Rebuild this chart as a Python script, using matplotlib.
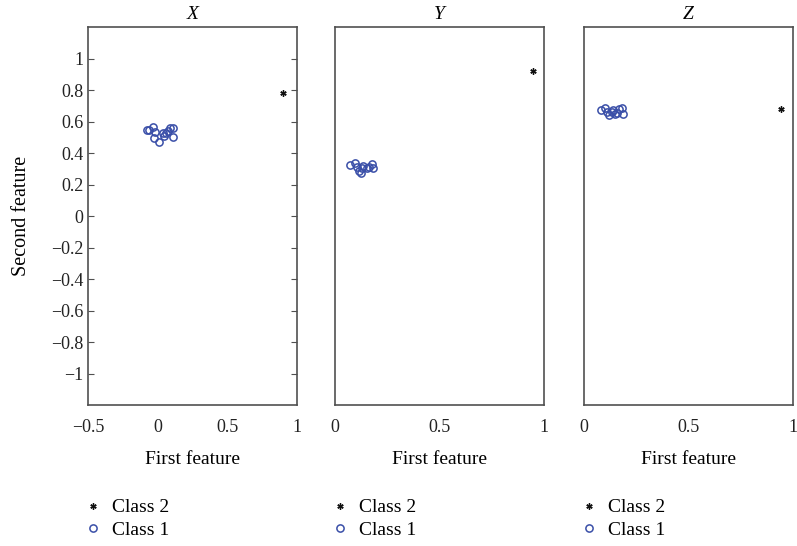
import matplotlib.pyplot as plt

plt.rcParams['font.family'] = ['Liberation Serif', 'DejaVu Serif']

titles = ['X', 'Y', 'Z']

# class 1 points (first feature, second feature) per panel
x1_X = [-0.074, -0.060, -0.034, -0.022, -0.027, 0.009, 0.041, 0.045, 0.058, 0.077, 0.086, 0.110, 0.113]
y1_X = [0.544, 0.545, 0.567, 0.533, 0.493, 0.470, 0.529, 0.508, 0.525, 0.540, 0.561, 0.561, 0.503]
x1_Y = [0.072, 0.096, 0.104, 0.115, 0.128, 0.135, 0.152, 0.164, 0.176, 0.183, 0.123]
y1_Y = [0.324, 0.338, 0.311, 0.286, 0.307, 0.317, 0.303, 0.311, 0.328, 0.307, 0.275]
x1_Z = [0.080, 0.100, 0.112, 0.121, 0.132, 0.140, 0.156, 0.169, 0.180, 0.188, 0.148]
y1_Z = [0.671, 0.684, 0.662, 0.639, 0.662, 0.671, 0.656, 0.677, 0.688, 0.646, 0.650]

# class 2 points
x2 = [0.904, 0.947, 0.943]
y2 = [0.780, 0.920, 0.680]

class1 = [(x1_X, y1_X), (x1_Y, y1_Y), (x1_Z, y1_Z)]
xlims = [(-0.5, 1), (0, 1), (0, 1)]
xticks = [[-0.5, 0, 0.5, 1], [0, 0.5, 1], [0, 0.5, 1]]
yticks = [-1, -0.8, -0.6, -0.4, -0.2, 0, 0.2, 0.4, 0.6, 0.8, 1]

blue = '#3a4fa8'
spine = '#505050'

fig = plt.figure(figsize=(7.97, 5.46), dpi=100)
lefts = [0.1104, 0.4203, 0.7327]
for i in range(3):
    ax = fig.add_axes([lefts[i], 0.2582, 0.262, 0.6923])
    s2, = ax.plot(x2[i], y2[i], linestyle='none', marker=(6, 2, 0), color='#111111',
                  markersize=4.5, markeredgewidth=1.0)
    s1, = ax.plot(class1[i][0], class1[i][1], linestyle='none', marker='o',
                  markerfacecolor='none', markeredgecolor=blue, markersize=5.2,
                  markeredgewidth=1.1)
    ax.set_xlim(*xlims[i])
    ax.set_ylim(-1.2, 1.2)
    ax.set_xticks(xticks[i])
    ax.set_xticklabels(['\u22120.5' if t == -0.5 else ('%g' % t) for t in xticks[i]])
    ax.tick_params(axis='x', length=0, labelsize=13, pad=10, colors='#222222')
    if i == 0:
        ax.set_yticks(yticks)
        ax.set_yticklabels([('%g' % t).replace('-', '\u2212') for t in yticks])
        ax.tick_params(axis='y', direction='in', left=True, right=True, length=4,
                       labelsize=13, colors='#222222')
        ax.tick_params(axis='y', color=spine)
        ax.set_ylabel('Second feature', fontsize=14.5, labelpad=14)
    else:
        ax.set_yticks([])
    for sp in ax.spines.values():
        sp.set_color(spine)
        sp.set_linewidth(1.2)
    ax.set_title(titles[i], fontsize=14, style='italic', pad=6)
    ax.set_xlabel('First feature', fontsize=14, labelpad=11)
    ax.legend([s2, s1], ['Class 2', 'Class 1'], loc='upper left',
              bbox_to_anchor=(-0.005, -0.248), frameon=False, fontsize=14,
              handlelength=0.6, handletextpad=0.7, labelspacing=0.25,
              borderaxespad=0, borderpad=0)

fig.savefig('out.png', dpi=100)
